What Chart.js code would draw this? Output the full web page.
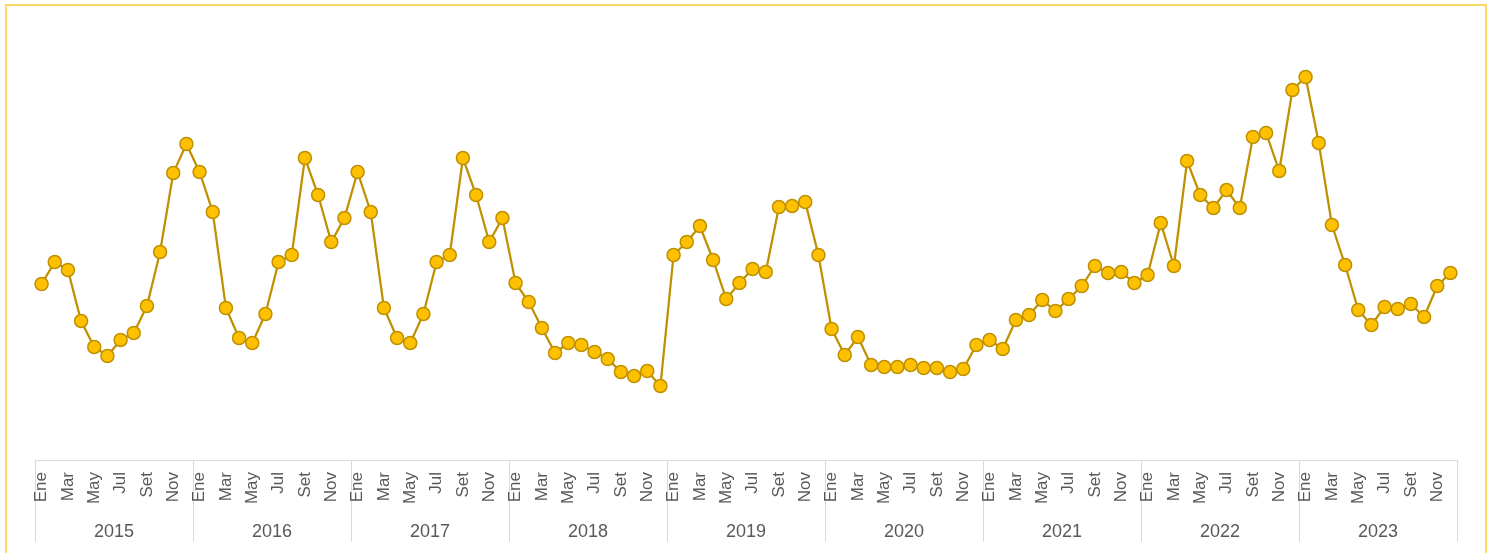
<!DOCTYPE html>
<html lang="es">
<head>
<meta charset="utf-8">
<title>Serie mensual 2015-2023</title>
<script src="https://cdn.jsdelivr.net/npm/chart.js@4"></script>
<style>
  html, body { margin: 0; padding: 0; background: #fff; overflow: hidden; }
  #frame {
    position: absolute; left: 5px; top: 4px;
    width: 1478px; height: 600px;
    border: 2px solid #ffd966;
  }
  #c { position: absolute; left: 0; top: 0; }
</style>
</head>
<body>
<div id="frame"></div>
<canvas id="c" width="1491" height="553"></canvas>
<script>
const months = ['Ene', 'Feb', 'Mar', 'Abr', 'May', 'Jun', 'Jul', 'Ago', 'Set', 'Oct', 'Nov', 'Dic'];
const years = ['2015', '2016', '2017', '2018', '2019', '2020', '2021', '2022', '2023'];

const v2015 = [176, 198, 190, 139, 113, 104, 120, 127, 154, 208, 287, 316];
const v2016 = [288, 248, 152, 122, 117, 146, 198, 205, 302, 265, 218, 242];
const v2017 = [288, 248, 152, 122, 117, 146, 198, 205, 302, 265, 218, 242];
const v2018 = [177, 158, 132, 107, 117, 115, 108, 101, 88, 84, 89, 74];
const v2019 = [205, 218, 234, 200, 161, 177, 191, 188, 253, 254, 258, 205];
const v2020 = [131, 105, 123, 95, 93, 93, 95, 92, 92, 88, 91, 115];
const v2021 = [120, 111, 140, 145, 160, 149, 161, 174, 194, 187, 188, 177];
const v2022 = [185, 237, 194, 299, 265, 252, 270, 252, 323, 327, 289, 370];
const v2023 = [383, 317, 235, 195, 150, 135, 153, 151, 156, 143, 174, 187];

const labels = years.flatMap(() => months);
const values = [v2015, v2016, v2017, v2018, v2019, v2020, v2021, v2022, v2023].flat();

const fontFamily = '"Liberation Sans", Arial, sans-serif';
const textColor = '#595959';
const lineGray = '#d9d9d9';

new Chart(document.getElementById('c'), {
  type: 'line',
  data: {
    labels,
    datasets: [{
      data: values,
      borderColor: '#bf9000',
      borderWidth: 2.25,
      pointRadius: 6.5,
      pointBorderWidth: 1.5,
      pointBackgroundColor: '#ffc000',
      pointBorderColor: '#bf9000',
      tension: 0
    }]
  },
  options: {
    responsive: false,
    animation: false,
    layout: { padding: { left: 35, right: 34, top: 40, bottom: 7 } },
    plugins: { legend: { display: false }, tooltip: { enabled: false } },
    scales: {
      y: { display: false, min: 0, max: 420 },
      x: {
        offset: true,
        weight: 0,
        grid: {
          offset: true,
          drawOnChartArea: false,
          drawTicks: true,
          tickLength: 82,
          lineWidth: 1,
          color: (ctx) => (ctx.index === undefined || ctx.index % 12 === 0) ? lineGray : 'rgba(0,0,0,0)'
        },
        border: { display: true, color: lineGray, width: 1 },
        ticks: {
          autoSkip: false,
          minRotation: 90,
          maxRotation: 90,
          padding: -70,
          color: textColor,
          font: { family: fontFamily, size: 17 },
          callback: function (value, index) {
            return index % 2 === 0 ? this.getLabelForValue(value) : '';
          }
        },
        afterFit: (scale) => { scale.height = 56; }
      },
      years: {
        type: 'category',
        axis: 'x',
        position: 'bottom',
        labels: years,
        offset: true,
        weight: 10,
        grid: { display: false },
        border: { display: false },
        ticks: {
          padding: -3,
          color: textColor,
          font: { family: fontFamily, size: 18 }
        },
        afterFit: (scale) => { scale.height = 30; }
      }
    }
  }
});
</script>
</body>
</html>
